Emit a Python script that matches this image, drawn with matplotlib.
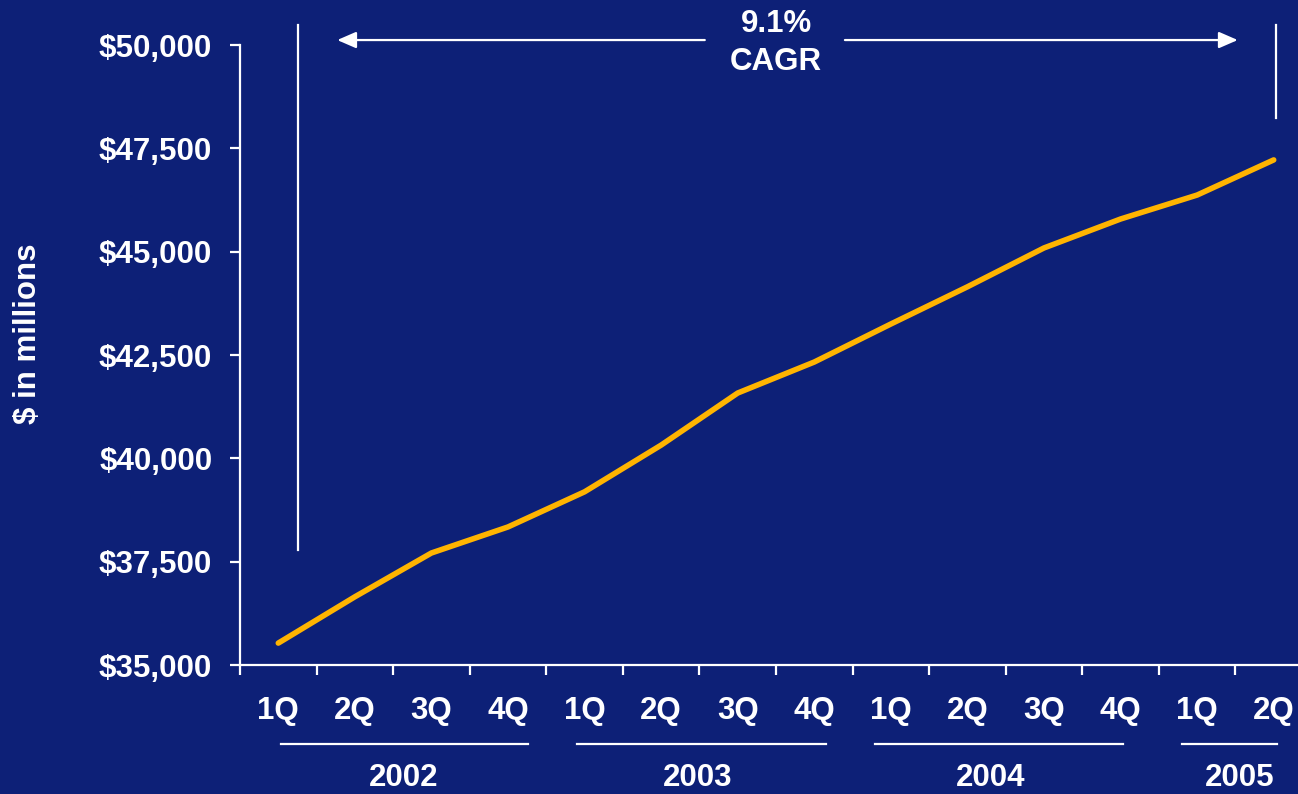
import matplotlib
matplotlib.use("Agg")
import matplotlib.pyplot as plt
from matplotlib.ticker import FuncFormatter, MultipleLocator

# ---- data ----
quarters = ["1Q", "2Q", "3Q", "4Q", "1Q", "2Q", "3Q", "4Q",
            "1Q", "2Q", "3Q", "4Q", "1Q", "2Q"]
values = [35530, 36650, 37710, 38340, 39190, 40320, 41580, 42330,
          43250, 44150, 45090, 45790, 46370, 47220]
years = ["2002", "2003", "2004", "2005"]
year_label_x = [1.64, 5.47, 9.30, 12.56]
year_line_start = [0.03, 3.90, 7.79, 11.80]
year_line_end = [3.26, 7.15, 11.03, 13.04]
cagr_text = "9.1%\nCAGR"

BG = "#0d2077"
LINE = "#ffb400"
WHITE = "white"
FONT = "Liberation Sans"
FS = 22.5

plt.rcParams["font.family"] = [FONT, "DejaVu Sans"]
plt.rcParams["font.weight"] = "bold"

fig = plt.figure(figsize=(12.98, 7.94), dpi=100, facecolor=BG)
ax = fig.add_axes([240 / 1298, 1 - 665 / 794, (1312 - 240) / 1298, 620 / 794])
ax.set_facecolor(BG)

x = list(range(len(values)))
ax.plot(x, values, color=LINE, lw=4.0, solid_capstyle="round", zorder=3)

ax.set_xlim(-0.5, len(values) - 0.5)
ax.set_ylim(35000, 50000)

for s in ["top", "right"]:
    ax.spines[s].set_visible(False)
for s in ["left", "bottom"]:
    ax.spines[s].set_color(WHITE)
    ax.spines[s].set_linewidth(1.6)

ax.yaxis.set_major_locator(MultipleLocator(2500))
ax.yaxis.set_major_formatter(FuncFormatter(lambda v, p: f"${v:,.0f}"))
ax.tick_params(axis="y", colors=WHITE, length=7, width=1.6, pad=13,
               labelsize=FS)

ax.set_xticks(x)
ax.set_xticklabels(quarters)
ax.set_xticks([i - 0.5 for i in range(len(values) + 1)], minor=True)
ax.tick_params(axis="x", which="major", length=0, pad=22, colors=WHITE,
               labelsize=FS)
ax.tick_params(axis="x", which="minor", length=7, width=1.6, color=WHITE)
for lab in ax.get_xticklabels() + ax.get_yticklabels():
    lab.set_fontweight("bold")

ax.text(-212 / 1072, 0.534, "$ in millions", transform=ax.transAxes,
        color=WHITE, fontsize=FS, fontweight="bold", rotation=90,
        ha="center", va="center")

# year groups
xform = ax.get_xaxis_transform()
for yr, lx, a, b in zip(years, year_label_x, year_line_start, year_line_end):
    ax.plot([a, b], [-0.127, -0.127], transform=xform, color=WHITE,
            lw=1.6, clip_on=False)
    ax.text(lx, -0.182, yr, transform=xform, color=WHITE, fontsize=FS,
            fontweight="bold", ha="center", va="center")

# CAGR annotation
y_arrow = 50120
ax.plot([0.26, 0.26], [37780, 50480], color=WHITE, lw=1.6, clip_on=False)
ax.plot([13.03, 13.03], [48240, 50480], color=WHITE, lw=1.6, clip_on=False)
arrowprops = dict(arrowstyle="-|>,head_length=1.15,head_width=0.5",
                  color=WHITE, lw=1.6, shrinkA=0, shrinkB=0)
ax.annotate("", xy=(0.77, y_arrow), xytext=(5.57, y_arrow),
            arrowprops=arrowprops, annotation_clip=False)
ax.annotate("", xy=(12.53, y_arrow), xytext=(7.40, y_arrow),
            arrowprops=arrowprops, annotation_clip=False)
ax.text(6.5, 50050, cagr_text, color=WHITE, fontsize=FS, fontweight="bold",
        ha="center", va="center", linespacing=1.35, clip_on=False)

fig.savefig("out.png", dpi=100, facecolor=BG)
